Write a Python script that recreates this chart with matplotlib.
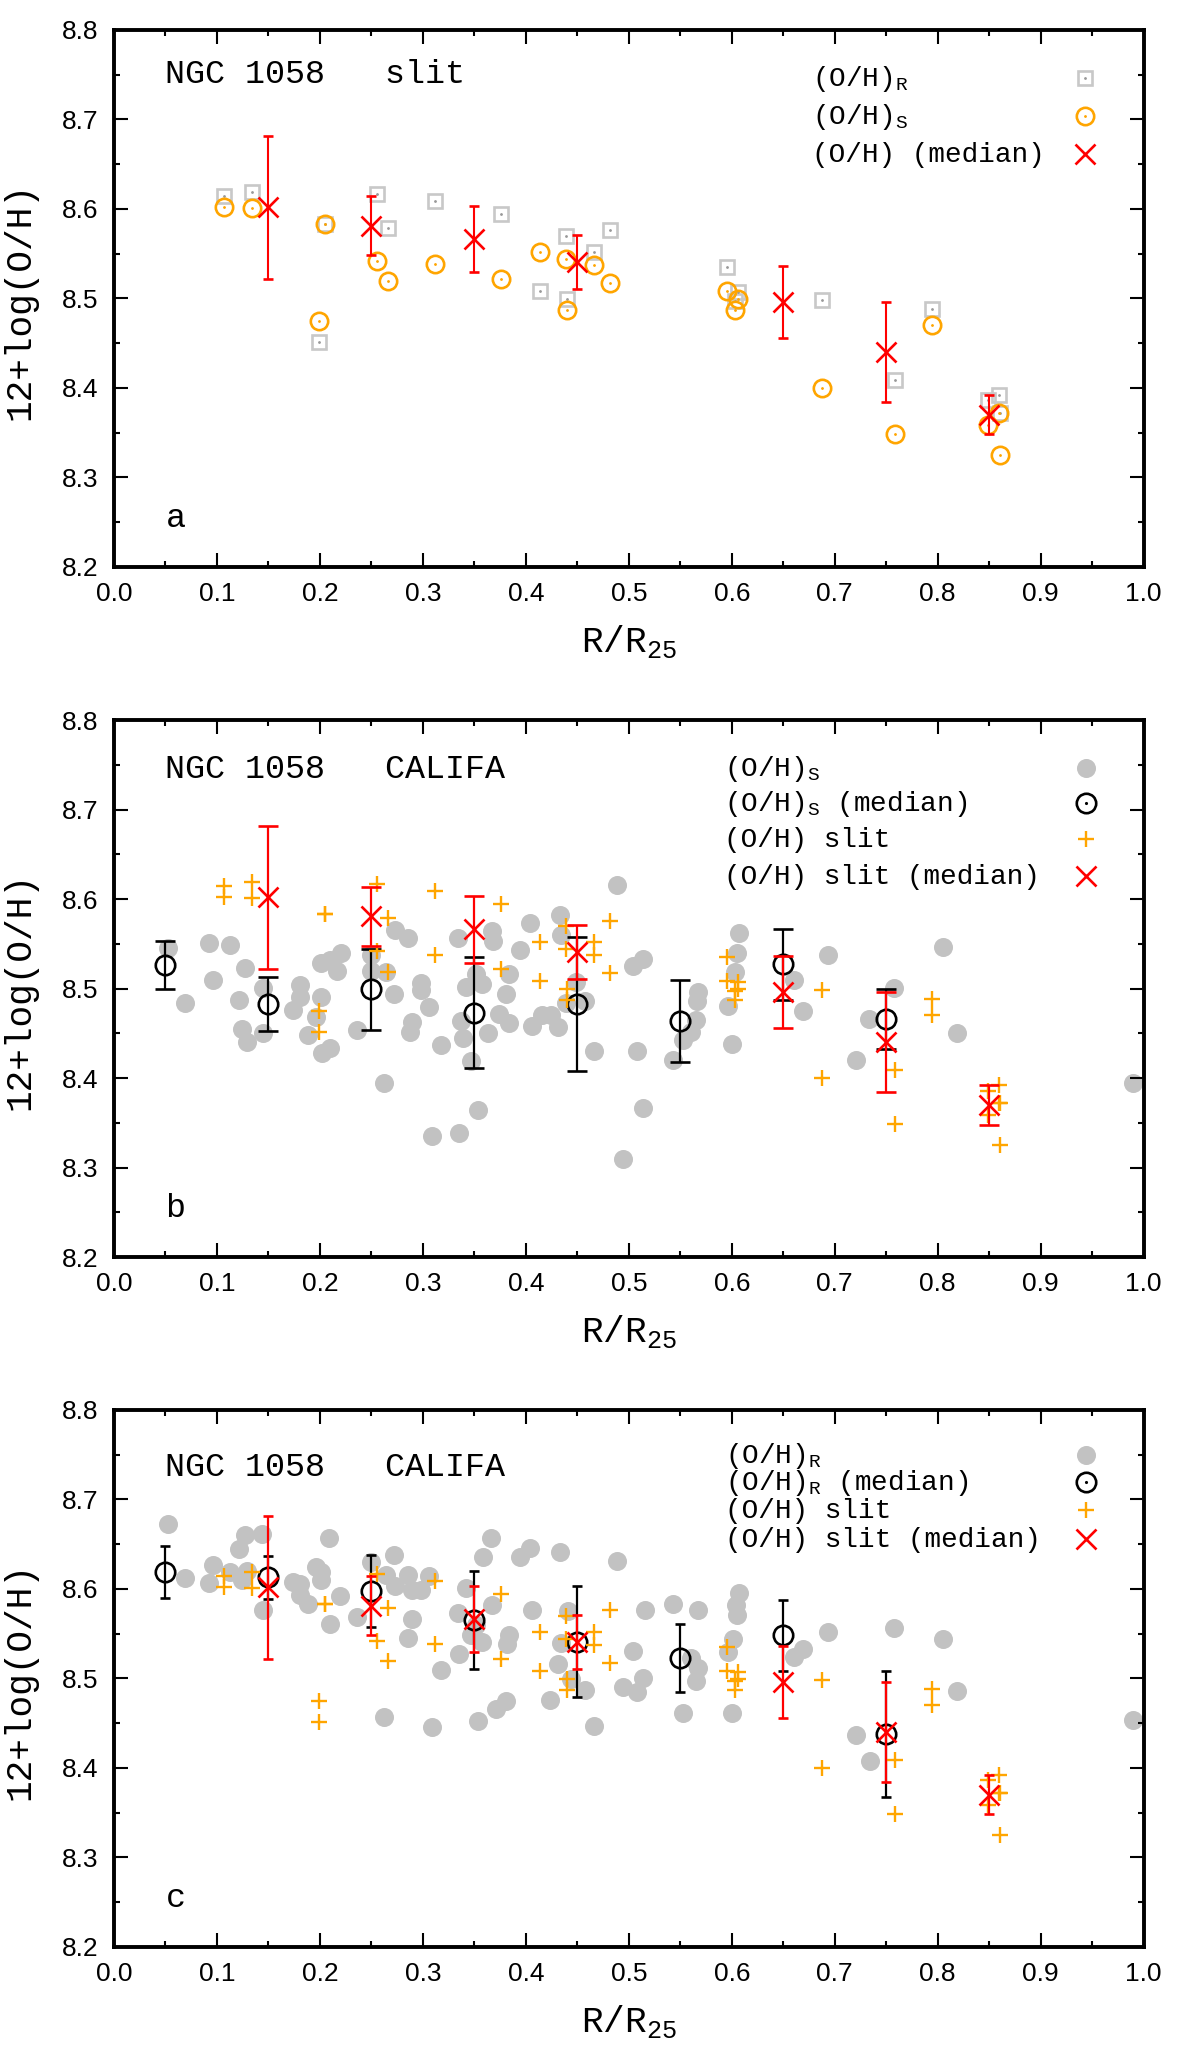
import matplotlib
matplotlib.use('Agg')
import matplotlib.pyplot as plt
from matplotlib.ticker import MultipleLocator, FormatStrFormatter

plt.rcParams['font.family'] = ['Liberation Sans', 'DejaVu Sans']
plt.rcParams['mathtext.fontset'] = 'custom'
plt.rcParams['mathtext.rm'] = 'Liberation Mono'
plt.rcParams['mathtext.it'] = 'Liberation Mono'
plt.rcParams['mathtext.bf'] = 'Liberation Mono'
MONO = ['Liberation Mono', 'DejaVu Sans Mono']

# ---------------- data ----------------
# slit HII regions (R/R25)
slit_r = [0.107, 0.134, 0.199, 0.205, 0.255, 0.266, 0.312, 0.376, 0.414, 0.439, 0.440,
          0.466, 0.482, 0.595, 0.603, 0.606, 0.688, 0.759, 0.794, 0.849, 0.860, 0.861]
slit_oh_R = [8.615, 8.619, 8.451, 8.583, 8.617, 8.579, 8.609, 8.594, 8.508, 8.570, 8.499,
             8.552, 8.576, 8.535, 8.497, 8.507, 8.498, 8.409, 8.488, 8.386, 8.392, 8.372]
slit_oh_S = [8.602, 8.601, 8.475, 8.583, 8.542, 8.519, 8.538, 8.522, 8.552, 8.544, 8.487,
             8.537, 8.517, 8.508, 8.487, 8.499, 8.400, 8.349, 8.470, 8.359, 8.372, 8.325]

# slit medians
slit_med_r = [0.15, 0.25, 0.35, 0.45, 0.65, 0.75, 0.85]
slit_med_oh = [8.602, 8.581, 8.566, 8.541, 8.496, 8.440, 8.370]
slit_med_err = [0.080, 0.033, 0.037, 0.030, 0.040, 0.056, 0.022]

# CALIFA spaxels, S calibration (panel b)
califa_r_S = [0.052, 0.069, 0.092, 0.1125, 0.096, 0.127, 0.1215, 0.124, 0.129, 0.145, 0.145,
              0.181, 0.181, 0.174, 0.188, 0.196, 0.201, 0.201, 0.210, 0.220, 0.217, 0.202,
              0.210, 0.236, 0.250, 0.250, 0.264, 0.272, 0.273, 0.286, 0.262, 0.298, 0.298,
              0.306, 0.289, 0.2875, 0.318, 0.309, 0.335, 0.354, 0.334, 0.347, 0.337, 0.339,
              0.342, 0.357, 0.352, 0.367, 0.368, 0.363, 0.374, 0.384, 0.381, 0.384, 0.394,
              0.404, 0.406, 0.416, 0.424, 0.431, 0.433, 0.434, 0.449, 0.457, 0.466, 0.489,
              0.494, 0.504, 0.514, 0.5075, 0.5135, 0.439, 0.5675, 0.566, 0.565, 0.5605,
              0.553, 0.543, 0.607, 0.6055, 0.603, 0.596, 0.600, 0.660, 0.6695, 0.693,
              0.758, 0.7336, 0.7208, 0.8055, 0.819, 0.9896]
califa_oh_S = [8.545, 8.484, 8.551, 8.549, 8.509, 8.523, 8.487, 8.455, 8.440, 8.450, 8.501,
               8.504, 8.490, 8.476, 8.448, 8.468, 8.491, 8.529, 8.532, 8.540, 8.520, 8.428,
               8.434, 8.454, 8.538, 8.520, 8.518, 8.494, 8.565, 8.556, 8.394, 8.506, 8.498,
               8.479, 8.463, 8.452, 8.437, 8.335, 8.339, 8.364, 8.556, 8.419, 8.464, 8.445,
               8.502, 8.505, 8.516, 8.564, 8.553, 8.450, 8.471, 8.461, 8.494, 8.516, 8.543,
               8.573, 8.458, 8.470, 8.470, 8.457, 8.582, 8.560, 8.507, 8.486, 8.430, 8.616,
               8.310, 8.525, 8.533, 8.430, 8.367, 8.484, 8.496, 8.486, 8.465, 8.452,
               8.443, 8.420, 8.562, 8.540, 8.519, 8.481, 8.438, 8.509, 8.475, 8.537,
               8.501, 8.466, 8.420, 8.546, 8.450, 8.394]

# CALIFA spaxels, R calibration (panel c)
califa_r_R = [0.052, 0.069, 0.096, 0.092, 0.1125, 0.127, 0.1215, 0.1436, 0.124, 0.129, 0.145,
              0.174, 0.181, 0.181, 0.188, 0.196, 0.201, 0.201, 0.209, 0.2197, 0.210, 0.236,
              0.250, 0.272, 0.264, 0.273, 0.286, 0.289, 0.298, 0.306, 0.289, 0.286, 0.318,
              0.262, 0.309, 0.354, 0.3706, 0.381, 0.3346, 0.342, 0.334, 0.3466, 0.357, 0.367,
              0.358, 0.366, 0.352, 0.384, 0.382, 0.394, 0.404, 0.4057, 0.433, 0.431, 0.423,
              0.441, 0.434, 0.457, 0.444, 0.466, 0.489, 0.494, 0.504, 0.5075, 0.514, 0.516,
              0.543, 0.5675, 0.5605, 0.567, 0.565, 0.553, 0.607, 0.604, 0.6055, 0.601,
              0.596, 0.600, 0.6695, 0.660, 0.693, 0.758, 0.7208, 0.7346, 0.8055, 0.819,
              0.9896]
califa_oh_R = [8.672, 8.612, 8.627, 8.607, 8.619, 8.660, 8.645, 8.661, 8.610, 8.620, 8.577,
               8.608, 8.606, 8.593, 8.583, 8.625, 8.619, 8.610, 8.657, 8.592, 8.561, 8.569,
               8.630, 8.638, 8.616, 8.603, 8.616, 8.599, 8.599, 8.615, 8.566, 8.545, 8.509,
               8.457, 8.446, 8.452, 8.466, 8.475, 8.527, 8.601, 8.573, 8.549, 8.541, 8.582,
               8.636, 8.657, 8.560, 8.549, 8.538, 8.636, 8.646, 8.577, 8.641, 8.516, 8.476,
               8.575, 8.540, 8.487, 8.499, 8.447, 8.631, 8.490, 8.531, 8.485, 8.501, 8.577,
               8.583, 8.576, 8.523, 8.512, 8.497, 8.461, 8.596, 8.582, 8.571, 8.544,
               8.529, 8.461, 8.533, 8.524, 8.552, 8.556, 8.437, 8.408, 8.544, 8.486,
               8.454]

# CALIFA medians
califa_med_r = [0.05, 0.15, 0.25, 0.35, 0.45, 0.55, 0.65, 0.75]
califa_med_S = [8.526, 8.483, 8.499, 8.473, 8.483, 8.464, 8.527, 8.466]
califa_err_S = [0.027, 0.030, 0.045, 0.062, 0.075, 0.046, 0.040, 0.034]
califa_med_R = [8.619, 8.613, 8.598, 8.565, 8.541, 8.523, 8.548, 8.438]
califa_err_R = [0.029, 0.024, 0.040, 0.055, 0.062, 0.038, 0.040, 0.070]

x_ticks = [0.0, 0.1, 0.2, 0.3, 0.4, 0.5, 0.6, 0.7, 0.8, 0.9, 1.0]
y_ticks = [8.2, 8.3, 8.4, 8.5, 8.6, 8.7, 8.8]

# ---------------- styles ----------------
GRAY = '#c2c2c2'
ORANGE = '#ffa500'
RED = '#ff0000'
SQ_GRAY = '#c8c8c8'

fig = plt.figure(figsize=(12, 20.49), dpi=100)
bottoms = [0.7233, 0.3865, 0.0498]
axes = [fig.add_axes([0.095, b, 0.858, 0.2621]) for b in bottoms]


def style(ax, letter):
    ax.set_xlim(0, 1)
    ax.set_ylim(8.2, 8.8)
    ax.set_xticks(x_ticks)
    ax.set_yticks(y_ticks)
    ax.xaxis.set_minor_locator(MultipleLocator(0.05))
    ax.yaxis.set_minor_locator(MultipleLocator(0.05))
    ax.xaxis.set_major_formatter(FormatStrFormatter('%.1f'))
    ax.yaxis.set_major_formatter(FormatStrFormatter('%.1f'))
    for sp in ax.spines.values():
        sp.set_linewidth(2.8)
    ax.tick_params(which='both', direction='in', top=True, right=True,
                   width=1.5, labelsize=19, pad=11)
    ax.tick_params(which='major', length=10)
    ax.tick_params(which='minor', length=4)
    ax.set_xlabel('R/R$_\\mathrm{25}$', family=MONO, fontsize=26)
    ax.xaxis.label.set_va('baseline')
    ax.xaxis.set_label_coords(0.5, -0.158)
    ax.set_ylabel('12+log(O/H)', family=MONO, fontsize=26)
    ax.yaxis.label.set_va('center')
    ax.yaxis.set_label_coords(-0.0913, 0.495)
    ax.text(0.05, 8.245, letter, family=MONO, fontsize=24, va='baseline', ha='left')


def legend_rows(ax, xt, xm, rows):
    for y, label, draw in rows:
        ax.text(xt, y - 0.009, label, family=MONO, fontsize=20, va='baseline', ha='left')
        draw(xm, y)


# ---------------- panel a ----------------
ax = axes[0]
style(ax, 'a')
ax.plot(slit_r, slit_oh_R, 's', ms=10, mfc='none', mec=SQ_GRAY, mew=1.9, zorder=2)
ax.plot(slit_r, slit_oh_R, '.', ms=2, color='#999999', zorder=2)
ax.plot(slit_r, slit_oh_S, 'o', ms=12.5, mfc='none', mec=ORANGE, mew=1.9, zorder=3)
ax.plot(slit_r, slit_oh_S, '.', ms=2, color=ORANGE, zorder=3)
ax.errorbar(slit_med_r, slit_med_oh, yerr=slit_med_err, fmt='x', ms=14, mew=1.9,
            color=RED, ecolor=RED, elinewidth=1.5, capsize=3.4, capthick=2.2, zorder=4)
ax.text(0.05, 8.741, 'NGC 1058   slit', family=MONO, fontsize=24, va='baseline')

def sq(x, y, ax=ax):
    ax.plot([x], [y], 's', ms=10, mfc='none', mec=SQ_GRAY, mew=1.9, clip_on=False)
    ax.plot([x], [y], '.', ms=2, color='#999999')

def oc(x, y, ax=ax):
    ax.plot([x], [y], 'o', ms=12.5, mfc='none', mec=ORANGE, mew=1.9)
    ax.plot([x], [y], '.', ms=2, color=ORANGE)

def rx(x, y, ax=ax):
    ax.plot([x], [y], 'x', ms=14, mew=1.9, color=RED)

legend_rows(ax, 0.678, 0.943, [
    (8.746, '(O/H)$_\\mathrm{R}$', sq),
    (8.704, '(O/H)$_\\mathrm{S}$', oc),
    (8.661, '(O/H) (median)', rx),
])


def califa_panel(ax, letter, cx, cy, mx, my, me, cap, title_y, sub, ypos, text_x):
    style(ax, letter)
    ax.plot(cx, cy, 'o', ms=13.7, color=GRAY, mec='none', zorder=1)
    ax.errorbar(mx, my, yerr=me, fmt='o', ms=14, mfc='none', mec='black', mew=1.9,
                ecolor='black', elinewidth=1.6, capsize=cap, capthick=2.2, zorder=2)
    ax.plot(slit_r + slit_r, slit_oh_R + slit_oh_S, '+', ms=11, mew=1.7, color=ORANGE, zorder=3)
    ax.errorbar(slit_med_r, slit_med_oh, yerr=slit_med_err, fmt='x', ms=14, mew=1.9,
                color=RED, ecolor=RED, elinewidth=1.6, capsize=cap, capthick=2.2, zorder=4)
    ax.text(0.05, title_y, 'NGC 1058   CALIFA', family=MONO, fontsize=24, va='baseline')

    def gd(x, y):
        ax.plot([x], [y], 'o', ms=13.7, color=GRAY, mec='none')

    def bc(x, y):
        ax.plot([x], [y], 'o', ms=14, mfc='none', mec='black', mew=1.9)
        ax.plot([x], [y], '.', ms=2.5, color='black')

    def op(x, y):
        ax.plot([x], [y], '+', ms=11, mew=1.7, color=ORANGE)

    def rx2(x, y):
        ax.plot([x], [y], 'x', ms=14, mew=1.9, color=RED)

    legend_rows(ax, text_x, 0.944, [
        (ypos[0], '(O/H)$_\\mathrm{%s}$' % sub, gd),
        (ypos[1], '(O/H)$_\\mathrm{%s}$ (median)' % sub, bc),
        (ypos[2], '(O/H) slit', op),
        (ypos[3], '(O/H) slit (median)', rx2),
    ])


califa_panel(axes[1], 'b', califa_r_S, califa_oh_S, califa_med_r, califa_med_S, califa_err_S,
             7.5, 8.735, 'S', [8.746, 8.707, 8.667, 8.626], 0.592)
califa_panel(axes[2], 'c', califa_r_R, califa_oh_R, califa_med_r, califa_med_R, califa_err_R,
             3.5, 8.726, 'R', [8.750, 8.719, 8.688, 8.656], 0.593)

fig.savefig('out.png', dpi=100)
